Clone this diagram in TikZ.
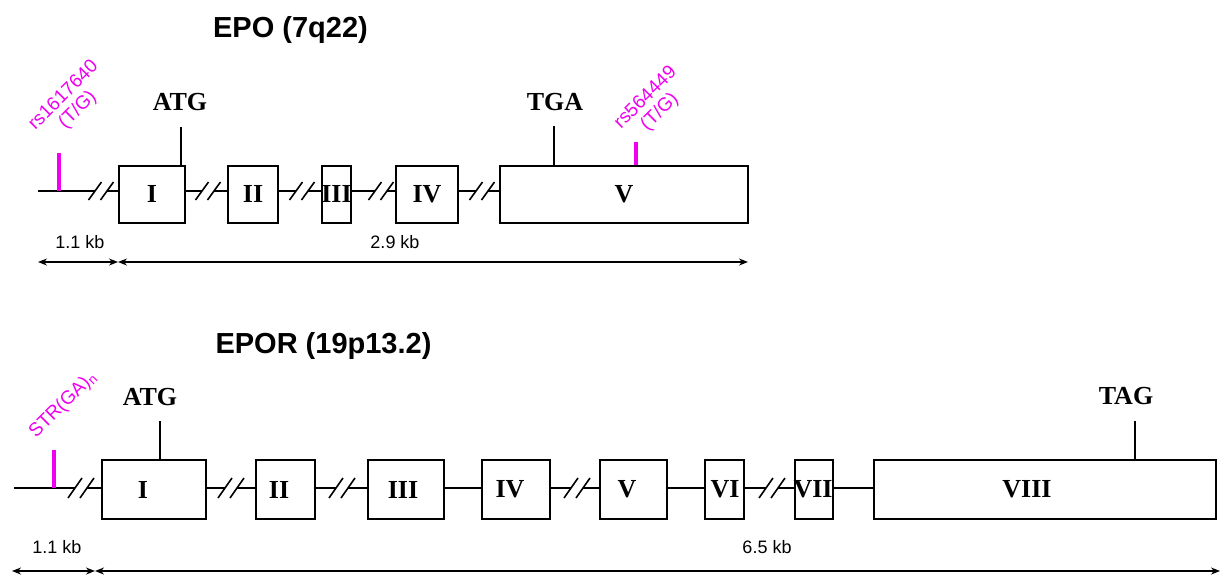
\documentclass[tikz,border=0pt]{standalone}
\usepackage{fontspec}
\setmainfont{Liberation Serif}
\setsansfont{Liberation Sans}
\usetikzlibrary{arrows.meta}
\definecolor{snp}{RGB}{240,0,240}
\begin{document}
\begin{tikzpicture}[x=1pt,y=-1pt,
  exon/.style={draw, line width=2pt, inner sep=0pt, fill=white},
  numeral/.style={font=\fontsize{26}{26}\selectfont\bfseries, inner sep=0pt},
  gline/.style={line width=2pt},
  tickline/.style={line width=1.8pt},
  snptick/.style={line width=4pt, draw=snp},
  snplabel/.style={text=snp, font=\sffamily\fontsize{19}{20}\selectfont, rotate=45, align=center, inner sep=0pt},
  codon/.style={font=\fontsize{26}{26}\selectfont\bfseries, anchor=base, inner sep=0pt},
  titletext/.style={font=\sffamily\bfseries\fontsize{29}{29}\selectfont, anchor=base, inner sep=0pt},
  kb/.style={font=\sffamily\fontsize{18}{18}\selectfont, anchor=base, inner sep=0pt},
  kbarrow/.style={line width=1.4pt, {Stealth[length=9pt,width=7pt]}-{Stealth[length=9pt,width=7pt]}},
  brk/.pic={\fill[white] (-6pt,-3pt) rectangle (6pt,3pt);
            \draw[line width=1.6pt] (-12.5pt,-9pt)--(0.5pt,9pt) (-0.5pt,-9pt)--(12.5pt,9pt);},
  brkl/.pic={\fill[white] (-6pt,-3pt) rectangle (6pt,3pt);
             \draw[line width=1.6pt] (-13pt,-10pt)--(1pt,10pt) (-1pt,-10pt)--(13pt,10pt);}
]
\useasboundingbox (0,0) rectangle (1222,574);

% ================= EPO =================
\node[titletext] (t1) at (290.5,37) {EPO (7q22)};

\coordinate (a0) at (38,191);
\node[exon, minimum width=66pt, minimum height=57pt] (a1) at (152,194) {};
\node[exon, minimum width=50pt, minimum height=57pt] (a2) at (253,194) {};
\node[exon, minimum width=29pt, minimum height=57pt] (a3) at (336.5,194) {};
\node[exon, minimum width=62pt, minimum height=57pt] (a4) at (427,194) {};
\node[exon, minimum width=248pt, minimum height=57pt] (a5) at (624,194) {};

\draw[gline] (a0) -- ([yshift=3pt]a1.west);
\draw[gline] ([yshift=3pt]a1.east) -- ([yshift=3pt]a2.west);
\draw[gline] ([yshift=3pt]a2.east) -- ([yshift=3pt]a3.west);
\draw[gline] ([yshift=3pt]a3.east) -- ([yshift=3pt]a4.west);
\draw[gline] ([yshift=3pt]a4.east) -- ([yshift=3pt]a5.west);

\node[numeral] (na1) at (a1) {I};
\node[numeral] (na2) at (a2) {II};
\node[numeral] (na3) at (a3) {III};
\node[numeral] (na4) at (a4) {IV};
\node[numeral] (na5) at (a5) {V};

\pic at (101,191) {brk};
\pic at (208,191) {brk};
\pic at (302,191) {brk};
\pic at (381,191) {brk};
\pic at (482,191) {brk};

% SNP rs1617640
\coordinate (s1) at (59,153);
\draw[snptick] (s1) -- (59,191);
\node[snplabel] (ls1) at (71,103) {rs1617640\\(T/G)};

% ATG
\coordinate (atg1) at (181,127);
\draw[tickline] (atg1) -- (atg1 |- a1.north);
\node[codon] (latg1) at (180,110) {ATG};

% TGA
\coordinate (tga1) at (554,126);
\draw[tickline] (tga1) -- (tga1 |- a5.north);
\node[codon] (ltga1) at (555,110) {TGA};

% SNP rs564449
\coordinate (s2) at (636,142);
\draw[snptick] (s2) -- (s2 |- a5.north);
\node[snplabel] (ls2) at (653,105) {rs564449\\(T/G)};

% scale
\node[kb] (k1) at (80,248) {1.1 kb};
\node[kb] (k2) at (395,248) {2.9 kb};
\coordinate (ka0) at (38,262);
\coordinate (ka1) at (118,262);
\coordinate (ka2) at (748,262);
\draw[kbarrow] (ka0) -- (ka1);
\draw[kbarrow] (ka1) -- (ka2);

% ================= EPOR =================
\node[titletext] (t2) at (323.5,353) {EPOR (19p13.2)};

\coordinate (b0) at (14,488);
\node[exon, minimum width=104pt, minimum height=59pt] (b1) at (154,489.5) {};
\node[exon, minimum width=59pt, minimum height=59pt] (b2) at (285.5,489.5) {};
\node[exon, minimum width=76pt, minimum height=59pt] (b3) at (406,489.5) {};
\node[exon, minimum width=68pt, minimum height=59pt] (b4) at (516,489.5) {};
\node[exon, minimum width=67pt, minimum height=59pt] (b5) at (633.5,489.5) {};
\node[exon, minimum width=39pt, minimum height=59pt] (b6) at (724.5,489.5) {};
\node[exon, minimum width=38pt, minimum height=59pt] (b7) at (814,489.5) {};
\node[exon, minimum width=342pt, minimum height=59pt] (b8) at (1045,489.5) {};

\draw[gline] (b0) -- ([yshift=1.5pt]b1.west);
\draw[gline] ([yshift=1.5pt]b1.east) -- ([yshift=1.5pt]b2.west);
\draw[gline] ([yshift=1.5pt]b2.east) -- ([yshift=1.5pt]b3.west);
\draw[gline] ([yshift=1.5pt]b3.east) -- ([yshift=1.5pt]b4.west);
\draw[gline] ([yshift=1.5pt]b4.east) -- ([yshift=1.5pt]b5.west);
\draw[gline] ([yshift=1.5pt]b5.east) -- ([yshift=1.5pt]b6.west);
\draw[gline] ([yshift=1.5pt]b6.east) -- ([yshift=1.5pt]b7.west);
\draw[gline] ([yshift=1.5pt]b7.east) -- ([yshift=1.5pt]b8.west);

\node[numeral] (nb1) at (143,489.5) {I};
\node[numeral] (nb2) at (279,489.5) {II};
\node[numeral] (nb3) at (403,489.5) {III};
\node[numeral] (nb4) at (510,489.5) {IV};
\node[numeral] (nb5) at (627,489.5) {V};
\node[numeral] (nb6) at (725,489.5) {VI};
\node[numeral] (nb7) at (813,489.5) {VII};
\node[numeral] (nb8) at (1027,489.5) {VIII};

\pic at (81,488) {brkl};
\pic at (231,488) {brkl};
\pic at (342,488) {brkl};
\pic at (577,488) {brkl};
\pic at (772,488) {brkl};

% STR
\coordinate (s3) at (54,450);
\draw[snptick] (s3) -- (54,488);
\node[snplabel] (ls3) at (63,405) {STR(GA)\textsubscript{n}};

% ATG
\coordinate (atg2) at (160,421);
\draw[tickline] (atg2) -- (atg2 |- b1.north);
\node[codon] (latg2) at (150,405) {ATG};

% TAG
\coordinate (tag2) at (1135,421);
\draw[tickline] (tag2) -- (tag2 |- b8.north);
\node[codon] (ltag2) at (1126,404) {TAG};

% scale
\node[kb] (k3) at (57,553) {1.1 kb};
\node[kb] (k4) at (767,553) {6.5 kb};
\coordinate (kb0) at (12,571);
\coordinate (kb1) at (95,571);
\coordinate (kb2) at (1220,571);
\draw[kbarrow] (kb0) -- (kb1);
\draw[kbarrow] (kb1) -- (kb2);
\end{tikzpicture}
\end{document}
